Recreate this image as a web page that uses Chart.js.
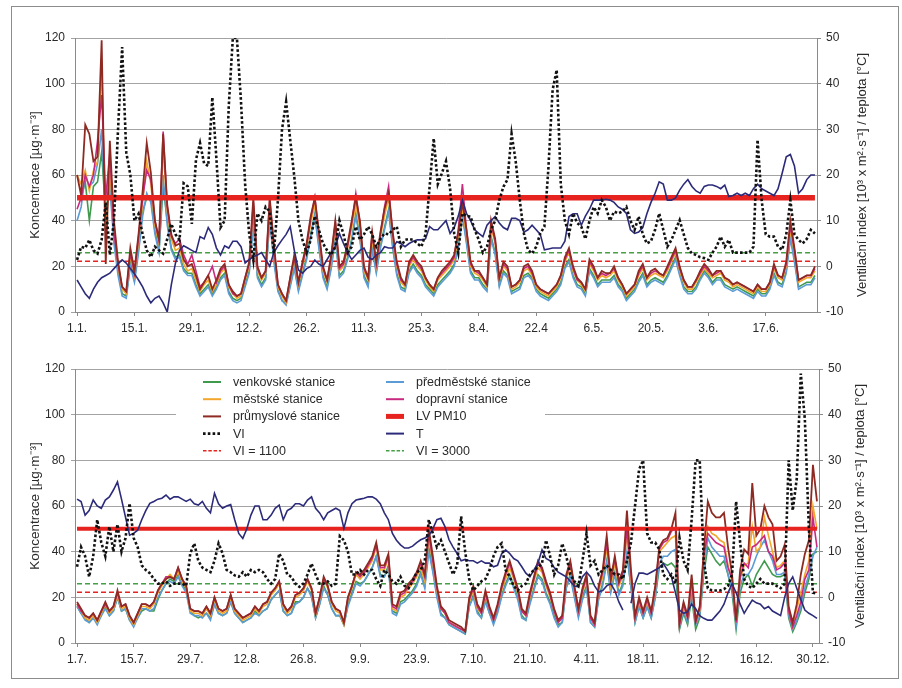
<!DOCTYPE html>
<html lang="cs">
<head>
<meta charset="UTF-8">
<title>PM10 – koncentrace, ventilační index a teplota</title>
<script src="https://cdn.jsdelivr.net/npm/chart.js"></script>
<style>
  html, body { margin: 0; padding: 0; background: #fff; }
  #page { position: relative; width: 902px; height: 688px; overflow: hidden; background: #fff; }
  #frame { position: absolute; left: 11px; top: 6px; width: 888px; height: 673px; border: 1px solid #8c8c8c; box-sizing: border-box; }
  canvas { position: absolute; left: 0; }
  #top { top: 0; }
  #bottom { top: 340px; }
</style>
</head>
<body>
<div id="page">
  <div id="frame"></div>
  <canvas id="top" width="902" height="340"></canvas>
  <canvas id="bottom" width="902" height="348"></canvas>
</div>

<script>
// categories: one label per day, first half and second half of the year
const h1Months = [[1, 31], [2, 28], [3, 31], [4, 30], [5, 31], [6, 30]];
const h2Months = [[7, 31], [8, 31], [9, 30], [10, 31], [11, 30], [12, 31]];

// tick labels shown every 14 days
const h1Ticks = ['1.1.', '15.1.', '29.1.', '12.2.', '26.2.', '11.3.', '25.3.', '8.4.', '22.4', '6.5.', '20.5.', '3.6.', '17.6.'];
const h2Ticks = ['1.7.', '15.7.', '29.7.', '12.8.', '26.8.', '9.9.', '23.9.', '7.10.', '21.10.', '4.11.', '18.11.', '2.12.', '16.12.', '30.12.'];

// limit value and VI thresholds
const LV_PM10 = 50;
const VI_1100 = 1.1;
const VI_3000 = 3.0;

// ---- 1. 1. – 30. 6. (µg/m3) ----
const h1Industrial = [
  60,51,82,78,66,68,119,21,75,40, 22,11,9,28,18,34,53,74,61,40,
  32,78,47,34,29,30,23,20,21,16, 10,13,16,10,14,19,21,12,9,7,
  8,15,22,50,20,15,18,50,30,12, 8,5,15,25,13,22,30,42,50,35,
  20,14,25,40,20,22,30,40,50,40, 20,15,35,22,35,45,52,35,22,15,
  12,22,25,22,20,15,12,10,15,18, 20,22,25,35,48,36,22,18,18,15,
  12,40,32,15,22,20,11,12,14,20, 21,18,12,10,9,8,10,12,16,24,
  28,20,15,13,10,23,20,15,18,17, 17,20,15,12,8,10,12,18,21,15,
  18,19,17,16,20,24,28,20,14,11, 11,14,18,21,19,16,18,18,15,14,
  12,13,12,11,10,9,12,10,10,13, 21,16,15,22,40,28,14,15,16,16,20
];
const h1Traffic = [
  45,50,60,55,60,75,95,50,70,35, 21,11,9,26,17,33,50,62,58,40,
  31,79,46,33,30,32,25,21,25,18, 11,13,16,20,13,18,20,12,8,7,
  8,15,21,48,19,15,18,49,29,12, 8,5,15,24,13,21,29,41,50,34,
  19,14,24,39,19,21,29,39,52,39, 19,15,34,21,34,46,55,34,21,14,
  12,21,24,21,19,15,12,10,15,17, 19,21,24,36,56,36,21,18,17,15,
  12,39,31,15,21,19,11,12,14,19, 20,17,12,10,9,8,10,12,16,23,
  27,19,14,13,10,22,19,15,17,16, 17,19,15,12,8,10,12,17,20,15,
  17,18,17,16,19,23,27,19,14,11, 11,14,17,20,18,16,17,18,15,14,
  12,13,12,11,10,9,12,10,10,13, 20,16,15,21,38,27,14,15,16,16,19
];
const h1Urban = [
  60,56,62,53,62,66,110,35,62,38, 20,10,8,25,16,31,48,66,56,38,
  30,72,44,32,27,28,21,18,19,14, 9,12,14,9,12,17,19,11,8,6,
  7,14,20,46,18,14,17,46,28,11, 7,4,14,23,12,20,28,39,47,33,
  18,13,23,37,18,20,28,37,47,37, 18,14,32,20,33,42,50,33,20,13,
  11,20,23,20,18,14,11,9,14,16, 18,20,23,33,45,34,20,17,16,14,
  11,37,30,14,20,18,10,11,13,18, 19,16,11,9,8,7,9,11,15,22,
  26,18,14,12,9,21,18,14,16,15, 16,18,14,11,7,9,11,16,19,14,
  16,17,16,15,18,22,26,18,13,10, 10,13,16,19,17,15,16,17,14,13,
  11,12,11,10,9,8,11,9,9,12, 19,15,14,20,36,26,13,14,15,15,18
];
const h1Suburban = [
  40,46,60,55,57,65,80,40,55,30, 16,7,6,20,13,26,42,52,48,34,
  26,60,38,27,23,24,18,16,16,11, 7,9,11,7,10,14,16,8,5,4,
  5,11,17,38,15,11,14,40,22,9, 5,3,11,19,9,16,23,33,42,28,
  15,10,19,32,15,17,23,31,42,32, 15,11,27,17,28,36,44,28,16,10,
  9,17,20,17,15,11,9,7,11,13, 15,17,20,28,42,30,17,14,14,11,
  9,32,25,11,17,15,8,9,10,15, 16,14,9,7,6,5,7,9,12,19,
  22,15,11,10,7,18,15,11,13,13, 13,15,11,9,5,7,9,13,16,11,
  13,14,13,12,15,19,23,16,10,8, 8,10,14,17,15,12,14,14,11,10,
  9,10,9,8,7,6,9,7,7,10, 16,12,11,17,32,22,10,11,12,12,15
];
const h1Rural = [
  50,50,57,40,55,57,70,42,58,32, 18,8,7,22,14,28,44,50,50,36,
  27,55,40,28,24,25,19,17,17,12, 8,10,12,8,11,15,17,9,6,5,
  6,12,18,40,16,12,15,42,24,10, 5,4,12,20,10,17,24,34,43,29,
  16,11,20,33,16,18,24,32,43,33, 16,12,28,18,29,37,45,29,17,11,
  10,18,21,18,16,12,10,8,12,14, 16,18,21,29,43,31,18,15,15,12,
  10,33,26,12,18,16,9,10,11,16, 17,15,10,8,7,6,8,10,13,20,
  23,16,12,11,8,19,16,12,14,14, 14,16,12,10,6,8,10,14,17,12,
  14,15,14,13,16,20,24,17,11,9, 9,11,15,18,16,13,15,15,12,11,
  10,11,10,9,8,7,10,8,8,11, 17,13,12,18,34,23,11,12,13,13,16
];
// ventilation index [10^3 m2/s] and temperature [°C], right axis
const h1VI = [
  1.4,4.3,4,5.8,3.5,2.8,5.8,14,2.5,10, 30,48,25,20,10,11.5,7,3.5,2,4.3,
  3.5,2.8,6,9.3,7,5.8,18.2,17.5,9.3,23.3, 27,22.5,22,37,23.5,8.5,10,35,50,50,
  36,18,7,1.4,11.6,10,13,12,2.8,14.5, 30,36,27.7,19.6,10,5.8,3,5.8,11,8,
  5,3.5,2.5,4.3,10,7,3,4.3,8.7,5.8, 7,8.7,7,4.3,6,7.2,7,8,8.7,4.3,
  5.8,6,5.8,5,4.3,7,17.4,28,18,20.4, 23,17,7.2,3,11.6,11,10.9,8,5.8,3,
  4.3,8,10,14.5,17.4,19,29,23,14.5,7.2, 3.6,2.8,4.3,7.2,8.7,21.8,38.6,43,18,10,
  7,11.6,9.5,8.7,6,10,13,11.6,14.5,13, 10,12,11.6,12,13,10,8,10.9,7,5,
  5.5,8,11.6,8,4.3,5.8,8,10.1,7,4, 2.8,2.5,2,1.8,1.4,3,4.3,6.5,4.3,5.8,
  3,3,3,3,3,4.3,27.7,14.5,7,6.5, 6.5,4.3,3.6,7,14.5,7,5.8,5,6,8,7.2
];
const h1Temp = [
  -3,-4.5,-6,-7,-5,-3.5,-2.5,-2,-1.5,-0.5, 0.5,1.4,0.7,-0.5,-1.6,-3,-4.5,-6.5,-8,-7,
  -6.5,-8,-10,-4,0.7,3.5,4.5,4,3.5,3, 6.5,6,8.5,7,4,2.5,4.5,4,5.5,5.5,
  4.3,0.7,1.5,2.1,2.5,3,1.5,0,3,4.5, 5.8,7,8.7,3.5,-0.8,-1.5,-0.5,0,1.4,0.5,
  0,1.5,3,4.3,7.2,5,3,1.5,2.5,3.5, 4,2,1.5,2.5,3,4.3,4,4,5.4,5,
  4.3,5,5.5,5.8,5.8,6,8.7,8,8,9, 10,7.2,8.5,11,14.5,11.6,10,8,7.2,6.5,
  9,10,10.9,9.5,8.5,8,10.5,10.5,10,7.5, 8,9,8,7,3.6,3.8,4,4,4,5.5,
  10.9,11.5,11.5,9,11,12.5,14.5,14.5,14.5,14.7, 14.5,14,13,12.5,11.6,8,7.2,7.5,8.5,11.5,
  14,16,18.5,18,14.5,14.5,15,16.7,18,19, 17.5,16.5,16,17.5,17.8,17.8,17.5,17,17.8,15.3,
  15.5,16,15.5,16,15.5,17,18,17,16.5,16, 15.5,17,20.4,24,24.5,22,16,17,19,20,20
];

// ---- 1. 7. – 31. 12. (µg/m3) ----
const h2Industrial = [
  18,15,12,11,13,10,14,18,14,16, 23,16,17,12,9,13,17,17,16,18,
  23,26,28,29,28,33,28,25,15,14, 14,13,16,13,20,15,14,15,21,15,
  13,11,12,13,16,14,17,18,22,24, 27,17,14,16,21,22,24,28,24,13,
  20,29,25,18,15,14,9,20,25,31, 30,32,35,38,44,34,34,39,17,16,
  22,23,26,28,31,36,30,50,38,25, 16,14,10,9,8,7,5,20,25,17,
  14,23,16,11,17,25,31,36,30,24, 15,13,22,29,36,33,27,22,15,10,
  12,30,36,25,15,24,30,12,9,25, 32,47,28,38,27,32,58,32,12,20,
  14,20,14,25,42,45,46,50,57,9, 18,12,30,10,16,40,62,57,55,55,
  57,42,30,10,32,41,39,70,47,50, 60,55,52,36,38,43,16,9,17,30,
  39,45,78,62
];
const h2Traffic = [
  17,14,12,11,13,10,14,17,14,16, 22,16,17,12,9,13,17,17,16,18,
  23,26,29,29,28,33,28,25,15,14, 14,13,16,13,20,15,14,15,21,15,
  13,11,12,13,16,14,17,18,22,24, 27,17,14,16,21,22,24,28,24,13,
  20,28,25,18,15,14,9,20,25,31, 29,31,34,37,43,33,33,38,16,15,
  21,22,25,27,30,35,29,48,36,24, 15,13,9,8,7,6,5,19,24,16,
  13,22,15,10,16,24,30,35,29,23, 14,12,21,28,35,32,26,21,14,9,
  11,29,35,24,14,23,29,11,8,24, 31,44,27,37,26,31,50,30,11,19,
  13,19,13,24,41,44,45,49,50,8, 17,11,28,9,15,38,48,46,44,43,
  42,33,28,9,29,35,33,42,43,45, 47,40,38,32,33,35,14,7,12,18,
  28,32,55,42
];
const h2Urban = [
  17,14,11,10,12,9,13,17,13,15, 21,15,16,11,8,12,16,16,15,17,
  22,25,28,30,28,31,27,24,14,13, 13,12,15,12,19,14,13,14,20,14,
  12,10,11,12,15,13,16,17,21,23, 26,16,13,15,20,21,23,27,23,12,
  19,28,24,17,14,13,8,19,24,30, 28,30,33,36,42,32,32,37,15,14,
  20,21,24,26,29,33,27,46,35,23, 15,13,9,8,7,6,5,18,23,15,
  13,21,15,10,16,23,28,33,28,22, 14,12,20,27,33,31,25,20,14,9,
  11,28,33,23,14,22,28,11,8,23, 29,42,25,35,25,29,48,28,11,18,
  13,18,13,23,40,42,44,46,47,8, 16,11,26,9,14,36,51,48,47,45,
  44,34,27,9,28,34,35,51,40,42, 55,47,40,33,34,36,14,7,15,22,
  30,36,60,50
];
const h2Suburban = [
  16,13,10,9,11,8,12,15,12,14, 20,14,15,10,7,11,15,15,14,15,
  20,23,26,27,26,29,25,22,13,12, 12,11,13,10,17,13,12,13,18,13,
  11,9,10,11,13,12,14,15,19,21, 23,14,12,13,17,18,20,24,20,11,
  17,24,21,15,12,12,8,16,21,26, 25,27,30,33,38,29,29,33,13,12,
  17,18,20,22,25,30,24,40,31,20, 12,11,8,7,6,5,4,16,20,13,
  11,18,13,8,13,20,25,29,24,19, 11,10,17,23,29,27,21,17,11,7,
  9,24,29,20,11,19,24,9,7,19, 25,35,22,30,21,25,40,24,9,16,
  11,16,11,20,35,38,38,40,41,7, 14,9,22,8,12,32,46,42,40,38,
  38,30,24,8,25,30,30,33,38,42, 45,40,36,30,30,31,12,6,10,16,
  24,30,38,42
];
const h2Rural = [
  16,13,11,9,11,9,12,16,12,14, 20,14,15,10,8,11,14,15,14,14,
  19,23,26,28,27,30,26,23,14,12, 11,12,13,11,17,13,12,13,18,13,
  11,9,10,11,14,12,14,15,19,21, 23,14,12,13,18,18,20,24,21,11,
  17,25,21,15,12,12,8,17,22,27, 26,27,30,33,38,30,29,34,14,13,
  18,19,21,23,26,31,25,42,32,21, 13,11,8,7,6,5,4,16,21,14,
  11,19,13,9,14,21,26,30,25,20, 12,10,18,24,30,28,22,18,12,8,
  9,25,30,21,12,20,25,9,7,20, 26,36,23,31,22,26,38,25,9,16,
  11,16,11,20,33,35,34,35,33,6, 13,8,20,6,11,30,42,39,36,34,
  36,30,22,6,22,28,30,25,30,33, 36,33,30,29,29,30,11,5,9,14,
  22,28,39,40
];
const h2VI = [
  6.7,11,9,4.5,9,17,12,9,15.5,10, 16,10,13,20.6,13,11,7,6,5.3,4,
  3,3,3.5,2.5,3,3,3,2.5,9.6,11.8, 8,6.5,6,5.5,8,11.8,9.6,6,5.5,4.8,
  4.5,5.5,4.5,6,5.5,6,5.5,4,3,4, 9.6,8,5,4.5,3,2.3,3,5,7.4,5,
  3,3,3.5,2.5,3,13.4,12.5,10,5,5, 6,5,6,6,4,2.5,6,5,3.5,3,
  4.5,2.5,2,3.5,5.5,6,8,17,14,11, 12.5,10,7.5,5,7,17.7,10,4,1.5,2.5,
  3.5,4,6,9,11,11.8,6,4.5,2.5,1.5, 2.5,3,5,6,6.5,7.5,12.5,9,5,7,
  11.8,9,5,3.5,2.5,8,14,7,8,5, 6,7,6,5,5,4,8,12,20,28,
  30,14,12,12,10.5,5,4,5,3,13, 8,6,17,30,30,8,2,1.5,1.5,1.5,
  1.8,2.5,5,21,12,4,2.5,2,3,4, 3,3,3,2.5,2,3,30,19,26,49,
  39,15,1,0.8
];
const h2Temp = [
  21.5,21,18,19,21.3,20,19.5,21.3,22,23.5, 25.3,21.5,17.5,13.6,14,14.7,17,19,20.6,21,
  21.5,21.7,22.4,21.5,22,22,21.5,21,21.5,20.5, 20.2,21,19.5,18.5,22.8,20.5,19.5,20,20.3,17,
  14,12.9,15,18,20,20,17,17,18,19.5, 20.2,17,19,19.5,20.5,20.5,20,21.3,22,19.5,
  18.5,17,18.5,19,19.5,19,15.1,18.5,20.5,21.3, 21.5,21.7,22,22,21.5,20.5,18.5,17,14,12.5,
  11.5,10.8,10.8,11.2,12,12.6,13,13.5,15,17, 17.3,15.5,12.6,11,9.6,8,8.3,8,8,7.5,
  8,7.5,7.5,6.7,7,9.5,10.4,9.6,8.5,8, 6.7,5.3,4.5,6,7.5,10.4,8.5,8,6.5,5.5,
  5,4.5,3.5,2.5,2.3,4.5,5.5,4.5,2.5,1.2, 1.5,2.5,3,1.5,-1,-2.8,null,-1.3,3,5.3,
  5.3,5,5.5,6,6.5,7.4,6,4.5,1,-2.8, -3.5,-3.2,-1.5,-2.5,-4,-4.6,-5,-5,-4,-3,
  -1.5,1,3,1,-1.5,-3.5,-2,-0.6,-1.2,-1.5, -2.5,-2,-3,-3.5,-4,0,3,4.5,2,-0.5,
  -2.8,-3.5,-4,-4.6
];

const FONT = '"Liberation Sans", Arial, sans-serif';
const TEXT = '#2a2a2a';
const AXIS = '#8a8a8a';
const GRID = '#a3a3a3';
const LEFT_TITLE = 'Koncentrace [µg·m⁻³]';
const RIGHT_TITLE = 'Ventilační index [10³ x m²·s⁻¹] / teplota [°C]';

const COL = {
  rural: '#3f9a4e', suburban: '#5b9bd6', urban: '#f2a62c', traffic: '#c82a80',
  industrial: '#8e2a22', lv: '#e6231f', t: '#2c2b7a', vi: '#111111', vi3000: '#45a045'
};

function dayLabels(months) {
  const out = [];
  months.forEach(([m, n]) => { for (let d = 1; d <= n; d++) out.push(d + '.' + m + '.'); });
  return out;
}

// rotated axis titles on both sides (both read bottom-to-top)
const axisTitles = {
  id: 'axisTitles',
  afterDraw(chart, args, opts) {
    const { ctx, chartArea } = chart;
    const mid = (chartArea.top + chartArea.bottom) / 2;
    ctx.save();
    ctx.fillStyle = TEXT;
    ctx.textAlign = 'center';
    ctx.textBaseline = 'middle';
    [[opts.leftX, LEFT_TITLE, 13.5], [opts.rightX, RIGHT_TITLE, 13]].forEach(([x, txt, size]) => {
      ctx.save();
      ctx.font = size + 'px ' + FONT;
      ctx.translate(x, mid);
      ctx.rotate(-Math.PI / 2);
      ctx.fillText(txt, 0, 0);
      ctx.restore();
    });
    ctx.restore();
  }
};

// legend box inside the lower plot
const legendItems = [
  { text: 'venkovské stanice', color: COL.rural, col: 0, row: 0 },
  { text: 'městské stanice', color: COL.urban, col: 0, row: 1 },
  { text: 'průmyslové stanice', color: COL.industrial, col: 0, row: 2 },
  { text: 'VI', color: COL.vi, col: 0, row: 3, kind: 'dot' },
  { text: 'VI = 1100', color: COL.lv, col: 0, row: 4, kind: 'dash' },
  { text: 'předměstské stanice', color: COL.suburban, col: 1, row: 0 },
  { text: 'dopravní stanice', color: COL.traffic, col: 1, row: 1 },
  { text: 'LV PM10', color: COL.lv, col: 1, row: 2, width: 5 },
  { text: 'T', color: COL.t, col: 1, row: 3 },
  { text: 'VI = 3000', color: COL.vi3000, col: 1, row: 4, kind: 'dash' }
];
const insideLegend = {
  id: 'insideLegend',
  beforeDatasetsDraw(chart) {
    const ctx = chart.ctx;
    ctx.save();
    ctx.fillStyle = '#fff';
    ctx.fillRect(176, 30, 369, 88);
    ctx.restore();
  },
  afterDatasetsDraw(chart) {
    const ctx = chart.ctx;
    const colX = [203, 386];
    ctx.save();
    ctx.font = '12.5px ' + FONT;
    ctx.textBaseline = 'middle';
    legendItems.forEach(it => {
      const x = colX[it.col];
      const y = 42 + it.row * 17.2;
      ctx.beginPath();
      ctx.strokeStyle = it.color;
      ctx.lineWidth = it.width || (it.kind === 'dot' ? 2.6 : it.kind === 'dash' ? 1.6 : 2);
      ctx.setLineDash(it.kind === 'dot' ? [2.6, 2.2] : it.kind === 'dash' ? [3.5, 1.8] : []);
      ctx.moveTo(x, y);
      ctx.lineTo(x + 18, y);
      ctx.stroke();
      ctx.setLineDash([]);
      ctx.fillStyle = TEXT;
      ctx.fillText(it.text, x + 30, y + 0.5);
    });
    ctx.restore();
  }
};

function drawPanel(id, p) {
  const days = p.days;
  const flat = v => [{ x: days[0], y: v }, { x: days[days.length - 1], y: v }];
  const line = (label, data, color, extra) => Object.assign({
    label, data, borderColor: color, backgroundColor: color, borderWidth: 1.6,
    pointRadius: 0, fill: false, tension: 0, yAxisID: 'y'
  }, extra || {});

  return new Chart(document.getElementById(id), {
    type: 'line',
    data: {
      labels: days,
      // first dataset is painted last (on top)
      datasets: [
        line('VI', p.vi, COL.vi, { yAxisID: 'yR', borderWidth: 2.6, borderDash: [2.6, 2.2] }),
        line('T', p.temp, COL.t, { yAxisID: 'yR', borderWidth: 1.6 }),
        line('LV PM10', flat(LV_PM10), COL.lv, { borderWidth: p.lvWidth }),
        line('průmyslové stanice', p.industrial, COL.industrial, { borderWidth: 1.8 }),
        line('dopravní stanice', p.traffic, COL.traffic),
        line('městské stanice', p.urban, COL.urban),
        line('předměstské stanice', p.suburban, COL.suburban),
        line('venkovské stanice', p.rural, COL.rural),
        line('VI = 1100', flat(VI_1100), COL.lv, { yAxisID: 'yR', borderWidth: 1.5, borderDash: [5, 3] }),
        line('VI = 3000', flat(VI_3000), COL.vi3000, { yAxisID: 'yR', borderWidth: 1.5, borderDash: [5, 3] })
      ]
    },
    options: {
      responsive: false,
      animation: false,
      devicePixelRatio: 1,
      layout: { padding: { top: p.padTop, bottom: p.padBottom, left: 0, right: 0 } },
      plugins: {
        legend: { display: false },
        tooltip: { enabled: false },
        axisTitles: { leftX: 35, rightX: p.rightTitleX }
      },
      scales: {
        x: {
          type: 'category',
          offset: true,
          afterBuildTicks: s => { s.ticks = s.ticks.filter(t => t.value % 14 === 0); },
          afterFit: s => { s.height = 24; },
          ticks: {
            autoSkip: false, maxRotation: 0, padding: 5, color: TEXT,
            font: { family: FONT, size: 12 },
            callback: (v, i) => p.ticks[i]
          },
          grid: { drawOnChartArea: false, tickLength: 4, color: AXIS },
          border: { display: true, color: AXIS }
        },
        y: {
          position: 'left', min: 0, max: 120,
          afterFit: s => { s.width = 75; },
          ticks: { stepSize: 20, padding: 6, color: TEXT, font: { family: FONT, size: 12 } },
          grid: { color: GRID, tickLength: 4 },
          border: { display: true, color: AXIS }
        },
        yR: {
          position: 'right', min: -10, max: 50,
          afterFit: s => { s.width = p.rightWidth; },
          ticks: { stepSize: 10, padding: 5, color: TEXT, font: { family: FONT, size: 12 } },
          grid: { drawOnChartArea: false, tickLength: 4, color: AXIS },
          border: { display: true, color: AXIS }
        }
      }
    },
    plugins: p.withLegend ? [axisTitles, insideLegend] : [axisTitles]
  });
}

drawPanel('top', {
  days: dayLabels(h1Months), ticks: h1Ticks,
  industrial: h1Industrial, traffic: h1Traffic, urban: h1Urban, suburban: h1Suburban, rural: h1Rural,
  vi: h1VI, temp: h1Temp,
  padTop: 38, padBottom: 4, rightWidth: 85, rightTitleX: 862, lvWidth: 5.5, withLegend: false
});

drawPanel('bottom', {
  days: dayLabels(h2Months), ticks: h2Ticks,
  industrial: h2Industrial, traffic: h2Traffic, urban: h2Urban, suburban: h2Suburban, rural: h2Rural,
  vi: h2VI, temp: h2Temp,
  padTop: 29, padBottom: 21, rightWidth: 83, rightTitleX: 860, lvWidth: 4, withLegend: true
});
</script>
</body>
</html>
